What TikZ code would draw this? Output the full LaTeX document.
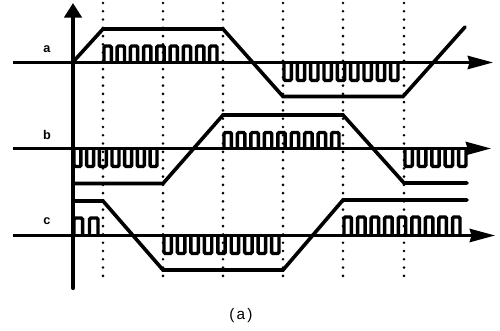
\documentclass[tikz,border=0pt]{standalone}
\usepackage{fontspec}
\setmainfont{Liberation Sans}
\newfontfamily\capfont[LetterSpace=14]{Liberation Sans}
\usetikzlibrary{arrows.meta}
\tikzset{
    gridline/.style={line width=2.2pt,line cap=round,dash pattern=on 0pt off 6.2pt},
    axisline/.style={line width=2pt,-{Stealth[length=19pt,width=10pt,inset=1.5pt]}},
    vaxisline/.style={line width=3.2pt,line cap=round,-{Triangle[length=11pt,width=13pt]}},
    slopeline/.style={line width=2.7pt,line join=miter,line cap=round},
    pulseline/.style={line width=2.6pt,rounded corners=1pt},
    siglabel/.style={font=\bfseries\fontsize{9.5}{10}\selectfont}
}
% x start, x end, pulses, axis y, level y
\newcommand{\pulsetrain}[5]{
    \pgfmathsetmacro{\pulsep}{(#2-#1)/(#3-1+0.55)}
    \foreach \k in {1,...,#3}{
        \pgfmathsetmacro{\pulsea}{#1+(\k-1)*\pulsep}
        \pgfmathsetmacro{\pulseb}{\pulsea+0.55*\pulsep}
        \draw[pulseline] (\pulsea,#4) -- (\pulsea,#5) -- (\pulseb,#5) -- (\pulseb,#4);
    }
}
\begin{document}
\begin{tikzpicture}[x=0.75pt,y=-0.75pt]
\useasboundingbox (0,0) rectangle (500,331);
% Time marks
\foreach \x in {103,163,223,283,343,404}{
    \coordinate (top\x) at (\x,3);
    \coordinate (bot\x) at (\x,280);
    \draw[gridline] (top\x) -- (bot\x);
}
% Axes
\coordinate (ao) at (13,62.5);
\coordinate (ae) at (493,62.5);
\coordinate (bo) at (13,148.5);
\coordinate (be) at (491,148.5);
\coordinate (co) at (13,235.5);
\coordinate (ce) at (495,235.5);
\coordinate (vo) at (73,288);
\coordinate (ve) at (73,3);
\draw[axisline] (ao) -- (ae);
\draw[axisline] (bo) -- (be);
\draw[axisline] (co) -- (ce);
\draw[vaxisline] (vo) -- (ve);
% Levels
\draw[slopeline] (73,62) -- (103,29) -- (223,29) -- (283,96.5) -- (403,96.5) -- (465,27);
\draw[slopeline] (73,183.5) -- (163,183.5) -- (223,115) -- (343,115) -- (404,183) -- (467,183);
\draw[slopeline] (73,201) -- (103,201) -- (163,270) -- (283,270) -- (343,200) -- (467,200);
% Pulses
\pulsetrain{104}{217}{9}{62.5}{46}
\pulsetrain{284}{398}{9}{62.5}{80.5}
\pulsetrain{74}{157}{7}{148.5}{166.5}
\pulsetrain{224}{339}{9}{148.5}{132.5}
\pulsetrain{405}{466}{5}{148.5}{166.5}
\pulsetrain{74}{98}{2}{235.5}{218}
\pulsetrain{164}{279}{9}{235.5}{253.5}
\pulsetrain{344}{460}{9}{235.5}{217}
% Labels
\node[siglabel] (a) at (47,49){a};
\node[siglabel] (b) at (47,135){b};
\node[siglabel] (c) at (47,221){c};
\node[font=\capfont\fontsize{11.5}{12}\selectfont] (cap) at (241,316){(a)};
\end{tikzpicture}
\end{document}
